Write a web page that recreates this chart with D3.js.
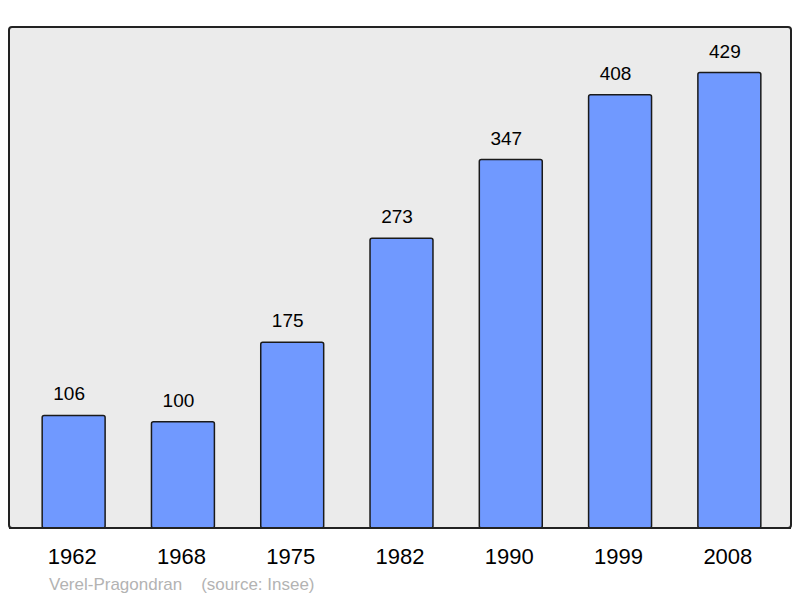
<!DOCTYPE html>
<html><head><meta charset="utf-8">
<script src="https://cdn.jsdelivr.net/npm/d3@7"></script>
<style>body{margin:0;background:#fff;}svg{display:block;font-family:"Liberation Sans",Arial,sans-serif;}</style>
</head><body>
<svg id="chart" width="800" height="598"></svg>
<script>
const years = ["1962","1968","1975","1982","1990","1999","2008"];
const population = [106,100,175,273,347,408,429];
const sourceText = "Verel-Pragondran\u00a0\u00a0\u00a0\u00a0(source: Insee)";

const svg = d3.select("#chart");
const frame = {x0:9, y0:27, x1:791, y1:528};

svg.append("rect").attr("x",frame.x0).attr("y",frame.y0)
  .attr("width",frame.x1-frame.x0).attr("height",frame.y1-frame.y0)
  .attr("rx",3).attr("fill","#ebebeb").attr("stroke","#222").attr("stroke-width",2);

const x = d3.scaleBand().domain(years).range([19,784]).paddingInner(0.424).paddingOuter(0.212);
const y = d3.scaleLinear().domain([0, d3.max(population)*1.1]).range([frame.y1, frame.y0]);

const g = svg.append("g");
g.selectAll("rect.bar").data(years).join("rect").attr("class","bar")
  .attr("x",d=>x(d)).attr("width",x.bandwidth())
  .attr("y",(d,i)=>y(population[i])).attr("height",(d,i)=>frame.y1-y(population[i]))
  .attr("rx",2).attr("fill","#7099ff").attr("stroke","#1a1a1a").attr("stroke-width",1.5);

g.selectAll("text.val").data(years).join("text").attr("class","val")
  .attr("x",d=>x(d)+x.bandwidth()/2-4.5).attr("y",(d,i)=>y(population[i])-15)
  .attr("text-anchor","middle").attr("font-size",19).attr("fill","#000")
  .text((d,i)=>population[i]);

svg.append("line").attr("x1",frame.x0).attr("x2",frame.x1).attr("y1",frame.y1).attr("y2",frame.y1)
  .attr("stroke","#222").attr("stroke-width",2);

const xAxis = d3.axisBottom(x).tickSize(0).tickPadding(0);
const ax = svg.append("g").attr("transform",`translate(-1.5,${frame.y1})`).call(xAxis);
ax.select(".domain").remove();
ax.selectAll("text").attr("font-size",22).attr("fill","#000")
  .attr("font-family","'Liberation Sans',Arial,sans-serif").attr("dy",null).attr("y",36);

svg.append("text").attr("x",49).attr("y",590).attr("font-size",17).attr("fill","#b3b3b3")
  .text(sourceText);
</script>
</body></html>
